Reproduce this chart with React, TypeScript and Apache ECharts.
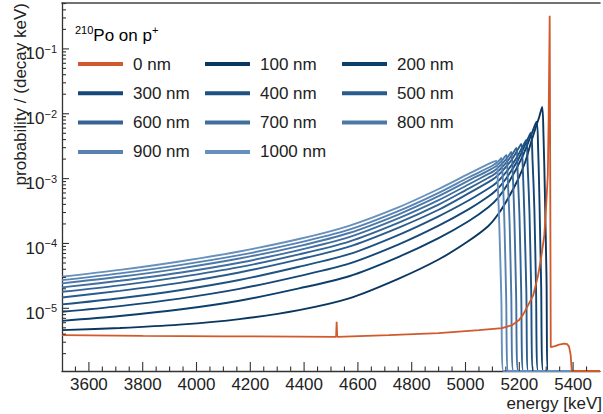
import React, { useEffect, useRef } from 'react';
import * as echarts from 'echarts';

const FONT = '"Liberation Sans", Arial, Helvetica, sans-serif';
const TXT = '#222';
const AX = '#333';

const X_MIN = 3500;
const X_MAX = 5500;
const Y_MIN = 1.08e-6; // bottom of the log axis (empty bins drawn here)
const Y_MAX = 0.51;

const seriesNames = ['0 nm', '100 nm', '200 nm', '300 nm', '400 nm', '500 nm', '600 nm', '700 nm', '800 nm', '900 nm', '1000 nm'];
const seriesColors = ['#d1592a', '#0a365f', '#0d3f6d', '#154879', '#1e5283', '#295b8d', '#346496', '#406e9f', '#4c78a8', '#5882b1', '#6690bd'];

const legendCol1 = ['0 nm', '300 nm', '600 nm', '900 nm'];
const legendCol2 = ['100 nm', '400 nm', '700 nm', '1000 nm'];
const legendCol3 = ['200 nm', '500 nm', '800 nm'];

const xMajorTicks = [3600, 3800, 4000, 4200, 4400, 4600, 4800, 5000, 5200, 5400];
const yMajorTicks = [1e-5, 1e-4, 1e-3, 1e-2, 1e-1];
const yMinorMantissas = [2, 3, 4, 5, 6, 7, 8, 9];
const yDecades = [1e-6, 1e-5, 1e-4, 1e-3, 1e-2, 1e-1];

const s0: [number, number][] = [
  [3500, 3.86e-6], [3800, 3.76e-6], [4100, 3.7e-6], [4381, 3.66e-6], [4519, 3.64e-6], [4521, 6.2e-6], [4523, 3.64e-6],
  [4715, 3.86e-6], [4900, 4.14e-6], [5050, 4.61e-6], [5136, 4.95e-6], [5173, 5.5e-6], [5199, 6.58e-6], [5215, 8.14e-6],
  [5233, 1.12e-5], [5252, 1.6e-5], [5270, 3.25e-5], [5281, 5.95e-5], [5293, 1.35e-4], [5300, 3.91e-4], [5306, 1.14e-3],
  [5309, 8.02e-3], [5313, 0.323], [5317, 2.52e-6], [5333, 2.61e-6], [5348, 2.75e-6], [5367, 2.85e-6], [5378, 2.8e-6],
  [5385, 2.57e-6], [5391, 1.9e-6], [5395, Y_MIN], [5500, Y_MIN],
];
const s100: [number, number][] = [
  [3500, 4.61e-6], [3715, 4.97e-6], [3937, 5.6e-6], [4159, 6.81e-6], [4381, 9.38e-6], [4567, 1.42e-5], [4752, 2.87e-5],
  [4900, 5.65e-5], [5011, 1.09e-4], [5085, 1.86e-4], [5122, 2.84e-4], [5159, 5.02e-4], [5196, 9.86e-4], [5222, 1.8e-3],
  [5244, 3.67e-3], [5263, 6.48e-3], [5274, 8.93e-3], [5285, 1.27e-2], [5290, 4.54e-3], [5295, 6.32e-4], [5301, 3.14e-5],
  [5307, Y_MIN], [5395, Y_MIN],
];
const s200: [number, number][] = [
  [3500, 6.41e-6], [3715, 7.61e-6], [3937, 9.58e-6], [4159, 1.31e-5], [4381, 2.03e-5], [4567, 3.12e-5], [4752, 6.23e-5],
  [4900, 1.21e-4], [5011, 2.2e-4], [5085, 3.62e-4], [5121, 5.05e-4], [5157, 8.23e-4], [5210, 2.11e-3], [5246, 4.93e-3],
  [5264, 7.55e-3], [5270, 2.85e-3], [5275, 4.43e-4], [5281, 2.6e-5], [5289, Y_MIN], [5395, Y_MIN],
];
const s300: [number, number][] = [
  [3500, 8.83e-6], [3715, 1.08e-5], [3937, 1.41e-5], [4159, 1.99e-5], [4381, 3.14e-5], [4567, 4.88e-5], [4752, 9.68e-5],
  [4900, 1.88e-4], [5011, 3.35e-4], [5085, 5.29e-4], [5117, 6.79e-4], [5149, 9.76e-4], [5196, 1.97e-3], [5227, 3.72e-3],
  [5243, 5.11e-3], [5249, 2.01e-3], [5256, 3.4e-4], [5262, 2.26e-5], [5270, Y_MIN], [5395, Y_MIN],
];
const s400: [number, number][] = [
  [3500, 1.15e-5], [3715, 1.43e-5], [3937, 1.9e-5], [4159, 2.73e-5], [4381, 4.37e-5], [4567, 6.84e-5], [4752, 1.36e-4],
  [4900, 2.62e-4], [5011, 4.59e-4], [5085, 7.03e-4], [5113, 8.49e-4], [5141, 1.12e-3], [5184, 1.91e-3], [5212, 3.1e-3],
  [5226, 3.94e-3], [5231, 1.6e-3], [5238, 2.85e-4], [5244, 2.06e-5], [5252, Y_MIN], [5395, Y_MIN],
];
const s500: [number, number][] = [
  [3500, 1.47e-5], [3715, 1.86e-5], [3937, 2.47e-5], [4159, 3.57e-5], [4381, 5.68e-5], [4567, 8.93e-5], [4752, 1.76e-4],
  [4900, 3.31e-4], [5011, 5.91e-4], [5085, 8.83e-4], [5110, 1.03e-3], [5134, 1.27e-3], [5171, 1.94e-3], [5195, 2.83e-3],
  [5207, 3.42e-3], [5213, 1.41e-3], [5219, 2.59e-4], [5226, 1.96e-5], [5233, Y_MIN], [5395, Y_MIN],
];
const s600: [number, number][] = [
  [3500, 1.8e-5], [3715, 2.26e-5], [3937, 3.03e-5], [4159, 4.31e-5], [4381, 6.79e-5], [4567, 1.07e-4], [4752, 2.1e-4],
  [4900, 3.97e-4], [5011, 7.01e-4], [5085, 1.03e-3], [5106, 1.16e-3], [5127, 1.37e-3], [5158, 1.9e-3], [5179, 2.56e-3],
  [5189, 2.97e-3], [5194, 1.24e-3], [5201, 2.35e-4], [5207, 1.86e-5], [5215, Y_MIN], [5395, Y_MIN],
];
const s700: [number, number][] = [
  [3500, 2.1e-5], [3715, 2.66e-5], [3937, 3.54e-5], [4159, 5.05e-5], [4381, 7.91e-5], [4567, 1.25e-4], [4752, 2.45e-4],
  [4900, 4.64e-4], [5011, 8.11e-4], [5085, 1.18e-3], [5102, 1.28e-3], [5119, 1.45e-3], [5145, 1.86e-3], [5162, 2.31e-3],
  [5170, 2.57e-3], [5176, 1.09e-3], [5182, 2.13e-4], [5188, 1.77e-5], [5196, Y_MIN], [5395, Y_MIN],
];
const s800: [number, number][] = [
  [3500, 2.42e-5], [3715, 3.06e-5], [3937, 4.1e-5], [4159, 5.85e-5], [4381, 9.12e-5], [4567, 1.45e-4], [4752, 2.82e-4],
  [4900, 5.35e-4], [5011, 9.28e-4], [5085, 1.33e-3], [5112, 1.54e-3], [5132, 1.83e-3], [5145, 2.14e-3], [5152, 2.31e-3],
  [5157, 9.93e-4], [5164, 1.99e-4], [5170, 1.7e-5], [5178, Y_MIN], [5395, Y_MIN],
];
const s900: [number, number][] = [
  [3500, 2.72e-5], [3715, 3.46e-5], [3937, 4.64e-5], [4159, 6.6e-5], [4381, 1.03e-4], [4567, 1.63e-4], [4752, 3.18e-4],
  [4900, 6.04e-4], [5011, 1.04e-3], [5085, 1.47e-3], [5104, 1.62e-3], [5119, 1.8e-3], [5129, 1.98e-3], [5133, 2.08e-3],
  [5139, 9.05e-4], [5145, 1.84e-4], [5151, 1.64e-5], [5159, Y_MIN], [5395, Y_MIN],
];
const s1000: [number, number][] = [
  [3500, 3.06e-5], [3715, 3.91e-5], [3937, 5.28e-5], [4159, 7.53e-5], [4381, 1.17e-4], [4567, 1.87e-4], [4752, 3.63e-4],
  [4900, 6.91e-4], [5011, 1.18e-3], [5067, 1.54e-3], [5096, 1.77e-3], [5115, 1.87e-3], [5120, 8.23e-4], [5126, 1.72e-4],
  [5133, 1.58e-5], [5141, Y_MIN], [5395, Y_MIN],
];

const seriesData = [s0, s100, s200, s300, s400, s500, s600, s700, s800, s900, s1000];

function buildTickData(): number[][] {
  const out: number[][] = [];
  for (const x of xMajorTicks) out.push([x, Y_MIN, 0]);
  for (let x = X_MIN + 50; x < X_MAX; x += 50) {
    if (!xMajorTicks.includes(x)) out.push([x, Y_MIN, 1]);
  }
  for (const y of yMajorTicks) out.push([X_MIN, y, 2]);
  for (const d of yDecades) {
    for (const m of yMinorMantissas) {
      const v = m * d;
      if (v > Y_MIN && v < Y_MAX) out.push([X_MIN, v, 3]);
    }
  }
  return out;
}

export default function App() {
  const ref = useRef<HTMLDivElement>(null);
  useEffect(() => {
    if (!ref.current) return;
    const chart = echarts.init(ref.current, undefined, { renderer: 'svg' });

    const lineSeries: any[] = seriesData.map((d, i) => ({
      type: 'line',
      name: seriesNames[i],
      data: d,
      color: seriesColors[i],
      showSymbol: false,
      symbol: 'none',
      smooth: i === 0 ? false : 0.3,
      lineStyle: { width: i === 0 ? 1.8 : 1.9, color: seriesColors[i] },
      z: i === 0 ? 5 : 3,
      silent: true,
    }));

    const tickLen = [9, 4.5, 7, 4];
    const tickSeries = {
      type: 'custom',
      silent: true,
      z: 10,
      data: buildTickData(),
      encode: { x: 0, y: 1 },
      renderItem: (_p: any, api: any) => {
        const kind = api.value(2);
        const pt = api.coord([api.value(0), api.value(1)]);
        const len = tickLen[kind];
        const shape = kind < 2
          ? { x1: pt[0], y1: pt[1], x2: pt[0], y2: pt[1] - len }
          : { x1: pt[0], y1: pt[1], x2: pt[0] + len, y2: pt[1] };
        return { type: 'line', shape, style: { stroke: AX, lineWidth: 1.1 } };
      },
    };

    const legendBase = {
      orient: 'vertical',
      top: 54,
      itemWidth: 45,
      itemHeight: 4,
      itemGap: 9.3,
      icon: 'rect',
      selectedMode: false,
      padding: 0,
      textStyle: { fontFamily: FONT, fontSize: 17, color: TXT, lineHeight: 20, padding: [0, 0, 0, 5] },
    };

    const supRich = {
      b: { fontFamily: FONT, fontSize: 17, color: TXT, verticalAlign: 'bottom', lineHeight: 19 },
      s: { fontFamily: FONT, fontSize: 11, color: TXT, verticalAlign: 'bottom', lineHeight: 11, padding: [0, 0, 8, 0] },
    };

    chart.setOption({
      animation: false,
      backgroundColor: '#fff',
      grid: { left: 62, right: 1, top: 3, bottom: 43, containLabel: false },
      legend: [
        { ...legendBase, left: 78, data: legendCol1 },
        { ...legendBase, left: 205, data: legendCol2 },
        { ...legendBase, left: 342, data: legendCol3 },
      ],
      xAxis: [
        {
          type: 'value',
          min: X_MIN,
          max: X_MAX,
          interval: 100,
          axisLine: { show: true, onZero: false, lineStyle: { color: AX, width: 1.3 } },
          axisTick: { show: false },
          splitLine: { show: false },
          axisLabel: {
            margin: 5,
            fontFamily: FONT,
            fontSize: 17,
            color: TXT,
            formatter: (v: number) => (xMajorTicks.includes(v) ? String(v) : ''),
          },
        },
        {
          type: 'value',
          position: 'top',
          min: X_MIN,
          max: X_MAX,
          axisLine: { show: true, onZero: false, lineStyle: { color: '#444', width: 1.6 } },
          axisTick: { show: false },
          axisLabel: { show: false },
          splitLine: { show: false },
        },
      ],
      yAxis: {
        type: 'log',
        logBase: 10,
        min: Y_MIN,
        max: Y_MAX,
        axisLine: { show: true, onZero: false, lineStyle: { color: AX, width: 1.3 } },
        axisTick: { show: false },
        splitLine: { show: false },
        axisLabel: {
          margin: 5,
          padding: [8, 0, 0, 0],
          formatter: (v: number) => {
            const e = Math.log10(v);
            const r = Math.round(e);
            if (Math.abs(e - r) > 1e-6 || r < -5 || r > -1) return '';
            return `{b|10}{s|\u2212${-r}}`;
          },
          rich: supRich,
        },
      },
      graphic: [
        {
          type: 'text',
          x: 20,
          y: 3,
          rotation: Math.PI / 2,
          style: {
            text: 'probability / (decay keV)',
            fontFamily: FONT,
            fontSize: 17,
            fill: TXT,
            align: 'right',
            verticalAlign: 'middle',
            textAlign: 'right',
            textVerticalAlign: 'middle',
          },
        },
        {
          type: 'text',
          x: 602,
          y: 403,
          style: {
            text: 'energy [keV]',
            fontFamily: FONT,
            fontSize: 17,
            fill: TXT,
            align: 'right',
            verticalAlign: 'middle',
            textAlign: 'right',
            textVerticalAlign: 'middle',
          },
        },
        {
          type: 'text',
          x: 75,
          y: 34,
          style: {
            text: '{s|210}{b|Po on p}{s|+}',
            rich: supRich,
            align: 'left',
            verticalAlign: 'middle',
            textAlign: 'left',
            textVerticalAlign: 'middle',
          },
        },
      ],
      series: [...lineSeries.slice(1), lineSeries[0], tickSeries],
    });

    return () => chart.dispose();
  }, []);

  return (
    <div
      ref={ref}
      style={{ position: 'fixed', left: 0, top: 0, width: 603, height: 414, background: '#fff' }}
    />
  );
}
